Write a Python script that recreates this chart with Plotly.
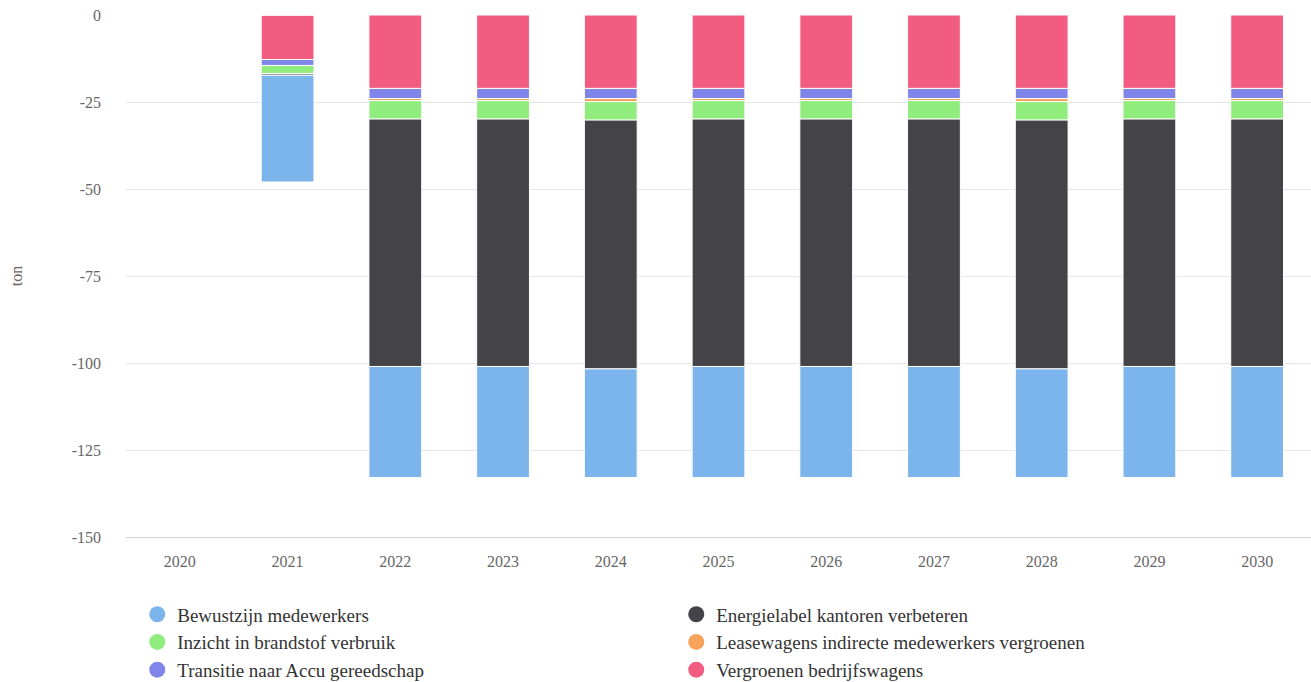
import plotly.graph_objects as go

years = ["2020", "2021", "2022", "2023", "2024", "2025", "2026", "2027", "2028", "2029", "2030"]

# stacked from zero downward (first = nearest to 0)
vergroenen_bedrijfswagens = [None, -12.8, -21.1, -21.1, -21.1, -21.1, -21.1, -21.1, -21.1, -21.1, -21.1]
transitie_accu = [None, -1.7, -2.9, -2.9, -2.9, -2.9, -2.9, -2.9, -2.9, -2.9, -2.9]
leasewagens = [None, 0, -0.6, -0.6, -0.9, -0.6, -0.6, -0.6, -0.9, -0.6, -0.6]
inzicht_brandstof = [None, -2.3, -5.3, -5.3, -5.3, -5.3, -5.3, -5.3, -5.3, -5.3, -5.3]
energielabel = [None, -0.5, -71.1, -71.1, -71.5, -71.1, -71.1, -71.1, -71.5, -71.1, -71.1]
bewustzijn = [None, -30.7, -31.9, -31.9, -31.2, -31.9, -31.9, -31.9, -31.2, -31.9, -31.9]

names = {
    "bew": "Bewustzijn medewerkers",
    "ene": "Energielabel kantoren verbeteren",
    "inz": "Inzicht in brandstof verbruik",
    "lea": "Leasewagens indirecte medewerkers vergroenen",
    "tra": "Transitie naar Accu gereedschap",
    "ver": "Vergroenen bedrijfswagens",
}
colors = {
    "bew": "#7cb5ec",
    "ene": "#434348",
    "inz": "#90ed7d",
    "lea": "#f7a35c",
    "tra": "#8085e9",
    "ver": "#f15c80",
}

stack_order = [
    ("ver", vergroenen_bedrijfswagens),
    ("tra", transitie_accu),
    ("lea", leasewagens),
    ("inz", inzicht_brandstof),
    ("ene", energielabel),
    ("bew", bewustzijn),
]

fig = go.Figure()
for key, vals in stack_order:
    fig.add_trace(go.Bar(
        x=years, y=vals, name=names[key], showlegend=False,
        marker=dict(color=colors[key], line=dict(color="#ffffff", width=1)),
    ))

for key in ["bew", "ene", "inz", "lea", "tra", "ver"]:
    fig.add_trace(go.Scatter(
        x=[None], y=[None], mode="markers", name=names[key],
        marker=dict(color=colors[key], size=17, symbol="circle"),
    ))

font = "Liberation Serif, Times New Roman, serif"
fig.update_layout(
    width=1311, height=682,
    margin=dict(l=126, r=0, t=15, b=145),
    barmode="relative",
    bargap=0.51,
    plot_bgcolor="#ffffff",
    paper_bgcolor="#ffffff",
    font=dict(family=font, color="#666666", size=16),
    legend=dict(
        orientation="h", x=0.0095, xanchor="left", yref="container", y=0.127, yanchor="top",
        font=dict(family=font, size=19, color="#333333"),
        entrywidth=494, entrywidthmode="pixels",
        itemclick=False,
    ),
    showlegend=True,
)
fig.update_xaxes(
    type="category", categoryorder="array", categoryarray=years,
    showline=True, linecolor="#ccd6eb", linewidth=1,
    showgrid=False, ticks="", tickfont=dict(family=font, size=16, color="#666666"),
    ticklabelstandoff=10,
)
fig.update_yaxes(
    range=[-150, 0], tickvals=[0, -25, -50, -75, -100, -125, -150],
    ticktext=["0", "-25", "-50", "-75", "-100", "-125", "-150"],
    showgrid=True, gridcolor="#e6e6e6", gridwidth=1, zeroline=False,
    tickfont=dict(family=font, size=16, color="#666666"), ticklabelstandoff=24,
    title=dict(text="ton", font=dict(family=font, size=16, color="#666666"), standoff=45),
)

fig.write_html("out.html")
